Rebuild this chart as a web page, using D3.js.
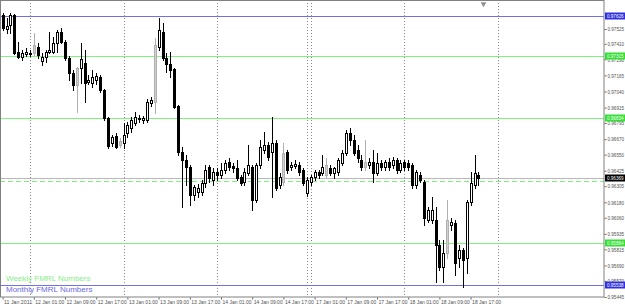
<!DOCTYPE html>
<html>
<head>
<meta charset="utf-8">
<script src="https://cdn.jsdelivr.net/npm/d3@7"></script>
<style>
  body { margin: 0; background: #fff; }
  svg { display: block; font-family: "Liberation Sans", Arial, sans-serif; }
</style>
</head>
<body>
<div id="chart"></div>
<script>
// H1 bars from 11 Jan 2011 17:00 to 18 Jan 2011 19:00 (weekend skipped)
const opens = [0.97634,0.97525,0.97556,0.97634,0.97346,0.97308,0.97331,0.97339,0.97339,0.97385,
  0.97277,0.97308,0.97346,0.97346,0.97416,0.97502,0.97424,0.97300,0.97184,0.97090,
  0.97222,0.97261,0.97114,0.97106,0.97129,0.97153,0.97052,0.96834,0.96640,0.96695,
  0.96625,0.96640,0.96718,0.96757,0.96796,0.96834,0.96819,0.96819,0.96951,0.96959,
  0.97385,0.97502,0.97300,0.97253,0.97215,0.96927,0.96571,0.96508,0.96454,0.96237,
  0.96260,0.96260,0.96330,0.96454,0.96353,0.96415,0.96392,0.96431,0.96493,0.96462,
  0.96446,0.96377,0.96338,0.96408,0.96454,0.96198,0.96470,0.96586,0.96625,0.96571,
  0.96640,0.96314,0.96338,0.96571,0.96454,0.96462,0.96470,0.96431,0.96252,0.96338,
  0.96377,0.96415,0.96408,0.96392,0.96446,0.96408,0.96415,0.96485,0.96563,0.96718,
  0.96664,0.96586,0.96508,0.96454,0.96470,0.96493,0.96408,0.96485,0.96454,0.96493,
  0.96470,0.96508,0.96431,0.96493,0.96485,0.96470,0.96314,0.96392,0.96338,0.96043,
  0.96043,0.96043,0.95849,0.95678,0.95787,0.96004,0.96020,0.95748,0.95810,0.95748,
  0.96183,0.96314,0.96392];
const highs = [0.97649,0.97610,0.97649,0.97641,0.97424,0.97362,0.97378,0.97362,0.97494,0.97416,
  0.97339,0.97362,0.97502,0.97463,0.97517,0.97533,0.97440,0.97315,0.97207,0.97230,
  0.97416,0.97362,0.97168,0.97207,0.97184,0.97168,0.97059,0.96842,0.96702,0.96718,
  0.96679,0.96796,0.96803,0.96842,0.96881,0.96858,0.96850,0.96982,0.96997,0.97455,
  0.97610,0.97572,0.97339,0.97346,0.97222,0.96935,0.96609,0.96547,0.96470,0.96314,
  0.96322,0.96353,0.96470,0.96470,0.96446,0.96446,0.96485,0.96508,0.96524,0.96485,
  0.96508,0.96392,0.96446,0.96625,0.96470,0.96485,0.96664,0.96726,0.96648,0.96842,
  0.96664,0.96408,0.96640,0.96586,0.96493,0.96508,0.96493,0.96446,0.96377,0.96392,
  0.96431,0.96431,0.96547,0.96524,0.96470,0.96454,0.96524,0.96586,0.96741,0.96757,
  0.96702,0.96625,0.96547,0.96664,0.96524,0.96586,0.96563,0.96508,0.96508,0.96524,
  0.96532,0.96524,0.96508,0.96508,0.96508,0.96485,0.96431,0.96415,0.96353,0.96144,
  0.96221,0.96144,0.95888,0.95888,0.96198,0.96058,0.96043,0.95849,0.95826,0.96198,
  0.96415,0.96547,0.96415];
const lows = [0.97517,0.97494,0.97494,0.97331,0.97300,0.97284,0.97315,0.97315,0.97323,0.97300,
  0.97246,0.97269,0.97339,0.97339,0.97346,0.97416,0.97284,0.97129,0.97052,0.96881,
  0.97106,0.96959,0.97098,0.97075,0.97098,0.97036,0.96819,0.96602,0.96617,0.96602,
  0.96609,0.96602,0.96687,0.96726,0.96780,0.96803,0.96796,0.96803,0.96927,0.96873,
  0.97362,0.97284,0.97191,0.97153,0.96912,0.96547,0.96144,0.96314,0.96159,0.96198,
  0.96221,0.96237,0.96299,0.96338,0.96314,0.96353,0.96369,0.96408,0.96431,0.96415,
  0.96353,0.96314,0.96314,0.96392,0.96120,0.96183,0.96446,0.96563,0.96508,0.96221,
  0.96276,0.96291,0.96314,0.96408,0.96431,0.96446,0.96392,0.96314,0.96229,0.96314,
  0.96353,0.96369,0.96392,0.96369,0.96392,0.96369,0.96392,0.96470,0.96547,0.96625,
  0.96547,0.96493,0.96431,0.96431,0.96446,0.96338,0.96392,0.96431,0.96431,0.96431,
  0.96446,0.96408,0.96415,0.96431,0.96431,0.96291,0.96291,0.96338,0.96004,0.96027,
  0.96020,0.95562,0.95655,0.95562,0.95748,0.95965,0.95616,0.95678,0.95523,0.95632,
  0.96159,0.96291,0.96314];
const closes = [0.97533,0.97548,0.97634,0.97339,0.97308,0.97339,0.97346,0.97331,0.97401,0.97323,
  0.97308,0.97346,0.97362,0.97416,0.97502,0.97424,0.97300,0.97184,0.97090,0.97222,
  0.97292,0.97106,0.97129,0.97153,0.97160,0.97052,0.96834,0.96617,0.96687,0.96609,
  0.96656,0.96702,0.96780,0.96819,0.96842,0.96827,0.96834,0.96959,0.96974,0.97401,
  0.97517,0.97300,0.97253,0.97207,0.96920,0.96571,0.96508,0.96454,0.96237,0.96299,
  0.96291,0.96330,0.96431,0.96369,0.96415,0.96392,0.96431,0.96485,0.96454,0.96446,
  0.96369,0.96330,0.96415,0.96470,0.96198,0.96470,0.96609,0.96625,0.96532,0.96640,
  0.96291,0.96377,0.96563,0.96431,0.96470,0.96477,0.96415,0.96330,0.96353,0.96377,
  0.96415,0.96392,0.96454,0.96470,0.96408,0.96446,0.96508,0.96563,0.96718,0.96664,
  0.96563,0.96524,0.96454,0.96493,0.96493,0.96408,0.96485,0.96454,0.96493,0.96454,
  0.96508,0.96431,0.96485,0.96454,0.96454,0.96314,0.96415,0.96353,0.96058,0.96120,
  0.96120,0.95849,0.95678,0.95787,0.96043,0.96027,0.95709,0.95810,0.95732,0.96183,
  0.96330,0.96408,0.96369];
// bars drawn in light grey on the original
const greyBars = [8, 19, 30, 39, 72, 83, 93, 114];

const priceTicks = [0.97525,0.97410,0.97290,0.97165,0.97040,0.96915,0.96795,0.96670,0.96550,
  0.96425,0.96305,0.96180,0.96060,0.95935,0.95815,0.95690,0.95570,0.95445];
const timeLabels = ["11 Jan 2011","12 Jan 01:00","12 Jan 09:00","12 Jan 17:00","13 Jan 01:00",
  "13 Jan 09:00","13 Jan 17:00","14 Jan 01:00","14 Jan 09:00","14 Jan 17:00","17 Jan 01:00",
  "17 Jan 09:00","17 Jan 17:00","18 Jan 01:00","18 Jan 09:00","18 Jan 17:00"];
const labelBars = [0,8,16,24,32,40,48,56,64,72,80,88,96,104,112,120];
const gridBars = [7,31,55,78,79,103,127];

const weeklyLevels = [0.97315, 0.96834, 0.95864];
const monthlyLevels = [0.97626, 0.95538];
const dashedLevel = 0.96346;
const bid = closes[closes.length - 1];

const width = 625, height = 307;
const plot = {left: 0, right: 604, top: 0, bottom: 297};

const svg = d3.select("#chart").append("svg")
    .attr("width", width)
    .attr("height", height);

const x = d3.scaleLinear().domain([0, 154]).range([2.6, 603.2]);
const y = d3.scaleLinear().domain([0.95445, 0.97525]).range([297, 29]);
const px = v => Math.round(v) + 0.5;
const fmt = d3.format(".5f");

// vertical dotted grid
svg.append("g")
    .selectAll("line")
    .data(gridBars)
    .enter().append("line")
    .attr("x1", d => px(x(d))).attr("x2", d => px(x(d)))
    .attr("y1", plot.top).attr("y2", plot.bottom)
    .attr("stroke", "#8a8a8a")
    .attr("stroke-dasharray", "1,2");

// level lines
const levels = svg.append("g").attr("shape-rendering", "crispEdges");
levels.selectAll(".weekly")
    .data(weeklyLevels)
    .enter().append("line")
    .attr("x1", plot.left).attr("x2", plot.right)
    .attr("y1", d => px(y(d))).attr("y2", d => px(y(d)))
    .attr("stroke", "#7cf47c");
levels.selectAll(".monthly")
    .data(monthlyLevels)
    .enter().append("line")
    .attr("x1", plot.left).attr("x2", plot.right)
    .attr("y1", d => px(y(d))).attr("y2", d => px(y(d)))
    .attr("stroke", "#7070e8");
levels.append("line")
    .attr("x1", plot.left).attr("x2", plot.right)
    .attr("y1", px(y(bid))).attr("y2", px(y(bid)))
    .attr("stroke", "#b8b8b8");
levels.append("line")
    .attr("x1", plot.left).attr("x2", plot.right)
    .attr("y1", px(y(dashedLevel))).attr("y2", px(y(dashedLevel)))
    .attr("stroke", "#7cf47c")
    .attr("stroke-dasharray", "5,3");

// candles
const bars = d3.range(opens.length).map(i => ({
    i, o: opens[i], h: highs[i], l: lows[i], c: closes[i], grey: greyBars.includes(i)
}));

const candles = svg.append("g").attr("shape-rendering", "crispEdges");
candles.selectAll("line")
    .data(bars)
    .enter().append("line")
    .attr("x1", d => px(x(d.i))).attr("x2", d => px(x(d.i)))
    .attr("y1", d => Math.round(y(d.h))).attr("y2", d => Math.round(y(d.l)) + 1)
    .attr("stroke", d => d.grey ? "#b0b0b0" : "#000");
candles.selectAll("rect")
    .data(bars)
    .enter().append("rect")
    .attr("x", d => Math.round(x(d.i)) - 0.5)
    .attr("y", d => Math.round(y(Math.max(d.o, d.c))) + 0.5)
    .attr("width", 2)
    .attr("height", d => Math.max(1, Math.round(y(Math.min(d.o, d.c))) - Math.round(y(Math.max(d.o, d.c)))))
    .attr("fill", d => d.grey ? "#cfcfcf" : (d.c >= d.o ? "#fff" : "#000"))
    .attr("stroke", d => d.grey ? "#b0b0b0" : "#000");

// frame
svg.append("rect")
    .attr("x", 0.5).attr("y", 0.5)
    .attr("width", plot.right - 0.5).attr("height", plot.bottom - 0.5)
    .attr("fill", "none")
    .attr("stroke", "#808080");

// chart shift marker
svg.append("path")
    .attr("d", d3.symbol(d3.symbolTriangle, 14)())
    .attr("transform", `translate(${x(123.3)},4) rotate(180)`)
    .attr("fill", "#909090");

// right price axis
const yAxis = svg.append("g")
    .attr("transform", `translate(${plot.right + 0.5},0)`)
    .call(d3.axisRight(y).tickValues(priceTicks).tickFormat(fmt).tickSize(2).tickPadding(1));
yAxis.select(".domain").remove();
yAxis.selectAll("line").attr("stroke", "#606060");
yAxis.selectAll("text")
    .attr("font-size", 5.5)
    .attr("fill", "#505050")
    .attr("textLength", 16.5)
    .attr("lengthAdjust", "spacingAndGlyphs");

// price highlight boxes
const tags = [
    ...monthlyLevels.map(v => ({v, fill: "#3030e0"})),
    ...weeklyLevels.map(v => ({v, fill: "#33e033"})),
    {v: bid, fill: "#000"}
];
const tag = svg.append("g").selectAll("g")
    .data(tags)
    .enter().append("g")
    .attr("transform", d => `translate(${plot.right + 1},${Math.round(y(d.v))})`);
tag.append("rect")
    .attr("x", 0).attr("y", -3.5)
    .attr("width", width - plot.right - 1).attr("height", 7)
    .attr("fill", d => d.fill);
tag.append("text")
    .attr("x", 2).attr("y", 0).attr("dy", "0.35em")
    .attr("font-size", 5.5)
    .attr("fill", "#fff")
    .attr("textLength", 16.5)
    .attr("lengthAdjust", "spacingAndGlyphs")
    .text(d => fmt(d.v));

// bottom time axis
const xAxis = svg.append("g")
    .attr("transform", `translate(0,${plot.bottom + 0.5})`)
    .call(d3.axisBottom(x).tickValues(labelBars).tickFormat((d, i) => timeLabels[i]).tickSize(2).tickPadding(1));
xAxis.select(".domain").remove();
xAxis.selectAll("line").attr("stroke", "#606060");
xAxis.selectAll("text")
    .attr("text-anchor", "start")
    .attr("dx", "1")
    .attr("font-size", 5.5)
    .attr("fill", "#505050")
    .attr("textLength", (d, i) => i === 0 ? 28 : 29)
    .attr("lengthAdjust", "spacingAndGlyphs");

// legend texts
svg.append("text")
    .attr("x", 6).attr("y", 281)
    .attr("font-size", 8)
    .attr("fill", "#86ee86")
    .text("Weekly FMRL Numbers");
svg.append("text")
    .attr("x", 6).attr("y", 292)
    .attr("font-size", 8)
    .attr("fill", "#6a6ae6")
    .text("Monthly FMRL Numbers");
</script>
</body>
</html>
